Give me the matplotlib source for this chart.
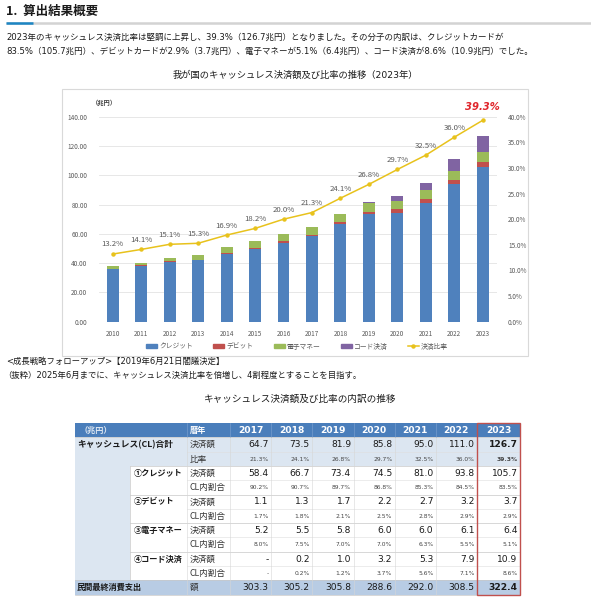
import numpy as np
import matplotlib as mpl
mpl.use('Agg')
import matplotlib.pyplot as plt
from matplotlib.patches import Rectangle
from matplotlib.lines import Line2D
from matplotlib.ticker import PercentFormatter

plt.rcParams['font.family'] = ['Noto Sans CJK JP', 'DejaVu Sans']
MIX = ['DejaVu Sans', 'Noto Sans CJK JP']  # wide latin digits, CJK fallback

# chart data (兆円 / %)
years = [2010, 2011, 2012, 2013, 2014, 2015, 2016, 2017, 2018, 2019, 2020, 2021, 2022, 2023]
credit = [36.0, 38.1, 40.9, 41.8, 46.3, 49.8, 53.9, 58.4, 66.7, 73.4, 74.5, 81.0, 93.8, 105.7]
debit = [0.3, 0.3, 0.4, 0.5, 0.6, 0.7, 0.9, 1.1, 1.3, 1.7, 2.2, 2.7, 3.2, 3.7]
emoney = [1.6, 2.0, 2.5, 3.3, 4.0, 4.7, 5.1, 5.2, 5.5, 5.8, 6.0, 6.0, 6.1, 6.4]
code = [0.0, 0.0, 0.0, 0.0, 0.0, 0.0, 0.0, 0.0, 0.2, 1.0, 3.2, 5.3, 7.9, 10.9]
ratio = [13.2, 14.1, 15.1, 15.3, 16.9, 18.2, 20.0, 21.3, 24.1, 26.8, 29.7, 32.5, 36.0, 39.3]

series_names = ['クレジット', 'デビット', '電子マネー', 'コード決済']
line_name = '決済比率'

# table data (2017-2023)
tbl_years = years[-7:]
cl_total = [64.7, 73.5, 81.9, 85.8, 95.0, 111.0, 126.7]
credit_share = [90.2, 90.7, 89.7, 86.8, 85.3, 84.5, 83.5]
debit_share = [1.7, 1.8, 2.1, 2.5, 2.8, 2.9, 2.9]
emoney_share = [8.0, 7.5, 7.0, 7.0, 6.3, 5.5, 5.1]
code_share = [0.0, 0.2, 1.2, 3.7, 5.6, 7.1, 8.6]
consumption = [303.3, 305.2, 305.8, 288.6, 292.0, 308.5, 322.4]

colors = ['#4f81bd', '#c0504d', '#9bbb59', '#8064a2']
line_color = '#e8c21c'
txt_dark = '#1a1a1a'
txt_gray = '#595959'

W, H = 591, 600
fig = plt.figure(figsize=(W / 100, H / 100), dpi=100)
fig.patch.set_facecolor('white')

# page axes in pixel coords (y down)
pg = fig.add_axes([0, 0, 1, 1])
pg.set_xlim(0, W)
pg.set_ylim(H, 0)
pg.axis('off')

# heading
pg.text(6, 11, '1.  算出結果概要', fontsize=9.0, fontweight='bold', va='center', color=txt_dark)
pg.plot([6, W], [23, 23], color='#d3d3d3', lw=1.8, solid_capstyle='butt')
pg.plot([6, 33], [23, 23], color='#1c86c4', lw=1.8, solid_capstyle='butt')

body = 6.1
pg.text(6, 37, '2023年のキャッシュレス決済比率は堅調に上昇し、39.3%（126.7兆円）となりました。その分子の内訳は、クレジットカードが',
        fontsize=body, va='center', color=txt_dark, family=MIX)
pg.text(6, 51, '83.5%（105.7兆円）、デビットカードが2.9%（3.7兆円）、電子マネーが5.1%（6.4兆円）、コード決済が8.6%（10.9兆円）でした。',
        fontsize=body, va='center', color=txt_dark, family=MIX)
pg.text(295, 75, '我が国のキャッシュレス決済額及び比率の推移（2023年）', fontsize=6.7, ha='center', va='center',
        color=txt_dark, family=MIX)

# chart frame
pg.add_patch(Rectangle((62, 89), 528 - 62, 356 - 89, fill=False, ec='#d9d9d9', lw=0.8))
pg.text(92, 102, '（兆円）', fontsize=4.5, fontweight='bold', ha='left', va='center', color='#404040')

# ---- chart ----
px_l, px_r, px_t, px_b = 98.5, 497, 116.7, 321.7
ax = fig.add_axes([px_l / W, 1 - px_b / H, (px_r - px_l) / W, (px_b - px_t) / H])
ax.set_facecolor('none')
x = np.arange(len(years))
bottom = np.zeros(len(years))
for vals, c, name in zip([credit, debit, emoney, code], colors, series_names):
    ax.bar(x, vals, 0.42, bottom=bottom, color=c, label=name, zorder=2)
    bottom += np.array(vals)
ax.set_xlim(-0.5, len(years) - 0.5)
ax.set_ylim(0, 140)
ax.set_yticks(np.arange(0, 141, 20))
ax.set_yticklabels(['%.2f' % v for v in np.arange(0, 141, 20)])
ax.set_xticks(x)
ax.set_xticklabels([str(y) for y in years])
ax.grid(axis='y', color='#e3e3e3', lw=0.6, zorder=0)
ax.set_axisbelow(True)
for s in ax.spines.values():
    s.set_visible(False)
ax.tick_params(axis='both', length=0, labelsize=4.6, colors=txt_gray)
ax.tick_params(axis='y', pad=8)
ax.tick_params(axis='x', pad=6)

ax2 = ax.twinx()
r = np.array(ratio) / 100
ax2.plot(x, r, color=line_color, lw=1.1, marker='o', ms=2.2, zorder=3)
ax2.set_ylim(0, 0.40)
ax2.set_yticks(np.arange(0, 0.401, 0.05))
ax2.yaxis.set_major_formatter(PercentFormatter(1.0, decimals=1))
ax2.tick_params(axis='y', length=0, labelsize=4.6, colors=txt_gray, pad=8)
for s in ax2.spines.values():
    s.set_visible(False)
for i, v in enumerate(ratio):
    if i == len(ratio) - 1:
        ax2.annotate('%.1f%%' % v, (x[i], r[i]), xytext=(0, 6), textcoords='offset points',
                     ha='center', va='bottom', fontsize=7.2, fontweight='bold', fontstyle='italic',
                     family='DejaVu Sans', color='#e0252b')
    else:
        ax2.annotate('%.1f%%' % v, (x[i], r[i]), xytext=(0, 4), textcoords='offset points',
                     ha='center', va='bottom', fontsize=5.6, color=txt_gray)

handles = [Rectangle((0, 0), 1, 1, color=c) for c in colors]
handles.append(Line2D([], [], color=line_color, lw=1.1, marker='o', ms=2.2))
fig.legend(handles, series_names + [line_name], loc='center', bbox_to_anchor=(297 / W, 1 - 346.5 / H),
           ncol=5, frameon=False, fontsize=4.9, handlelength=1.6, handleheight=0.6,
           columnspacing=3.0, handletextpad=0.3, labelcolor=txt_gray)

# ---- text between chart and table ----
pg.text(6, 361, '<成長戦略フォローアップ>【2019年6月21日閣議決定】', fontsize=6.0, va='center',
        color=txt_dark, family=MIX)
pg.text(3, 375, '（抜粋）2025年6月までに、キャッシュレス決済比率を倍増し、4割程度とすることを目指す。',
        fontsize=6.0, va='center', color=txt_dark, family=MIX)
pg.text(300, 399, 'キャッシュレス決済額及び比率の内訳の推移', fontsize=6.9, ha='center', va='center', color=txt_dark)

# ---- table ----
t_l, t_sub, t_kind, t_y0, t_y6, t_r = 75, 130, 187, 230, 477, 520
col_w = (t_y6 - t_y0) / 6
xe = [t_y0 + i * col_w for i in range(7)] + [t_r]
top, rh = 423, 14.3
n_rows = 12
def ry(i):
    return top + i * rh

hdr_blue = '#4a7ebb'
light = '#dce6f1'
mid = '#b8cce4'
grid_c = '#c8c8c8'

pg.add_patch(Rectangle((t_l, ry(0)), t_r - t_l, rh, fc=hdr_blue, ec='none'))
pg.add_patch(Rectangle((t_l, ry(1)), t_r - t_l, 2 * rh, fc=light, ec='none'))
pg.add_patch(Rectangle((t_l, ry(3)), t_sub - t_l, 8 * rh, fc=light, ec='none'))
pg.add_patch(Rectangle((t_l, ry(11)), t_r - t_l, rh, fc=mid, ec='none'))

# grid lines
for i in range(1, n_rows):
    if i in (1, 3, 5, 7, 9, 11):
        x0 = t_l if i in (1, 11) else t_sub
        pg.plot([x0, t_r], [ry(i), ry(i)], color=grid_c, lw=0.5)
    else:
        pg.plot([t_kind, t_r], [ry(i), ry(i)], color='#dedede', lw=0.4)
pg.plot([t_l, t_r], [ry(n_rows), ry(n_rows)], color=grid_c, lw=0.5)
for xv in [t_kind, t_y0] + xe[1:-1]:
    pg.plot([xv, xv], [ry(1), ry(n_rows)], color='#d6d6d6', lw=0.4)
    pg.plot([xv, xv], [ry(0), ry(1)], color='#7fa3d1', lw=0.4)
pg.plot([t_sub, t_sub], [ry(3), ry(11)], color=grid_c, lw=0.5)

fs_v, fs_p, fs_l = 6.6, 4.3, 5.9
cy = lambda i: ry(i) + rh / 2 + 0.3

# header
pg.text(t_l + 5, cy(0), '（兆円）', fontsize=fs_l, fontweight='bold', color='#dce6f1', va='center')
pg.text(t_kind + 3, cy(0), '暦年', fontsize=fs_l, fontweight='bold', color='white', va='center')
for j, yv in enumerate(tbl_years):
    pg.text((xe[j] + xe[j + 1]) / 2, cy(0), str(yv), fontsize=fs_v, fontweight='bold', color='white',
            ha='center', va='center', family='DejaVu Sans')

pg.text(t_l + 2, cy(1), 'キャッシュレス(CL)合計', fontsize=6.3, fontweight='bold', color=txt_dark, va='center')
groups = ['①クレジット', '②デビット', '③電子マネー', '④コード決済']
for g, name in enumerate(groups):
    pg.text(t_sub + 4, cy(3 + 2 * g), name, fontsize=fs_l, fontweight='bold', color=txt_dark, va='center')
pg.text(t_l + 2, cy(11), '民間最終消費支出', fontsize=fs_l, fontweight='bold', color=txt_dark, va='center')

rows = [
    ('決済額', cl_total, 'amt'),
    ('比率', ratio[-7:], 'pct'),
    ('決済額', credit[-7:], 'amt'),
    ('CL内割合', credit_share, 'pct'),
    ('決済額', debit[-7:], 'amt'),
    ('CL内割合', debit_share, 'pct'),
    ('決済額', emoney[-7:], 'amt'),
    ('CL内割合', emoney_share, 'pct'),
    ('決済額', code[-7:], 'amt'),
    ('CL内割合', code_share, 'pct'),
    ('額', consumption, 'amt'),
]
bold_rows = {1, 2, 11}
for k, (kind, vals, fmt) in enumerate(rows):
    i = k + 1
    pg.text(t_kind + 3, cy(i), kind, fontsize=fs_l + 0.3, color='#333333', va='center')
    for j, v in enumerate(vals):
        if v == 0:
            s = '-'
        elif fmt == 'pct':
            s = '%.1f%%' % v
        else:
            s = '%.1f' % v
        last = j == len(vals) - 1
        pg.text(xe[j + 1] - 2.5, cy(i), s, fontsize=fs_p if fmt == 'pct' else fs_v,
                fontweight='bold' if (last and i in bold_rows) else 'normal',
                color=txt_dark if fmt == 'amt' else '#444444',
                ha='right', va='center', family='DejaVu Sans')

# red frame around 2023 column
pg.add_patch(Rectangle((t_y6, ry(0)), t_r - t_y6, n_rows * rh, fill=False, ec='#c0504d', lw=1.0, zorder=5))

fig.savefig('out.png', dpi=100)
